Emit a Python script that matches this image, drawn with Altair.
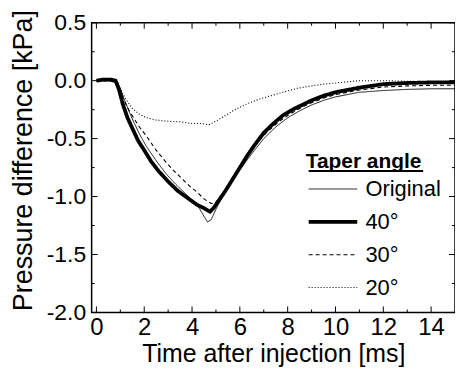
import altair as alt
import pandas as pd

series_names = ["Original", "40°", "30°", "20°"]

t_orig = [0, 0.5, 0.85, 1.0, 1.2, 1.5, 1.8, 2.1, 2.5, 2.9, 3.3, 3.7, 4.0, 4.3, 4.5, 4.65, 4.8, 5.0, 5.3, 5.6, 6.0, 6.5, 7.0, 7.5, 8.0, 8.5, 9.0, 9.5, 10, 11, 12, 13, 14, 15]
p_orig = [0, 0, 0, -0.07, -0.18, -0.33, -0.46, -0.57, -0.69, -0.80, -0.89, -0.97, -1.03, -1.10, -1.17, -1.22, -1.20, -1.11, -0.99, -0.89, -0.77, -0.63, -0.50, -0.40, -0.32, -0.26, -0.21, -0.17, -0.14, -0.10, -0.085, -0.075, -0.07, -0.07]

t_40 = [0, 0.3, 0.6, 0.8, 0.95, 1.1, 1.3, 1.5, 1.75, 2.0, 2.3, 2.6, 3.0, 3.4, 3.8, 4.2, 4.5, 4.75, 4.9, 5.1, 5.4, 5.7, 6.0, 6.3, 6.6, 7.0, 7.4, 7.8, 8.2, 8.6, 9.0, 9.5, 10.0, 10.5, 11.0, 11.5, 12.0, 13.0, 14.0, 15.0]
p_40 = [0, 0.01, 0.01, 0, -0.08, -0.2, -0.32, -0.41, -0.52, -0.6, -0.7, -0.78, -0.87, -0.95, -1.01, -1.07, -1.10, -1.13, -1.10, -1.04, -0.95, -0.85, -0.75, -0.65, -0.56, -0.45, -0.37, -0.30, -0.25, -0.21, -0.17, -0.13, -0.10, -0.08, -0.06, -0.045, -0.03, -0.02, -0.015, -0.015]

t_30 = [0, 0.5, 0.9, 1.1, 1.4, 1.8, 2.1, 2.5, 2.9, 3.2, 3.6, 3.9, 4.2, 4.5, 4.8, 4.95, 5.1, 5.4, 5.7, 6.0, 6.4, 6.8, 7.2, 7.6, 8.0, 8.5, 9.0, 9.5, 10, 11, 12, 13, 14, 15]
p_30 = [0, 0, -0.02, -0.15, -0.27, -0.40, -0.48, -0.60, -0.70, -0.77, -0.85, -0.91, -0.96, -1.02, -1.06, -1.06, -1.02, -0.94, -0.84, -0.74, -0.62, -0.52, -0.43, -0.36, -0.30, -0.24, -0.19, -0.15, -0.12, -0.08, -0.055, -0.045, -0.04, -0.04]

t_20 = [0, 0.5, 0.85, 1.0, 1.2, 1.5, 1.8, 2.1, 2.5, 3.0, 3.5, 4.0, 4.4, 4.7, 5.0, 5.4, 5.8, 6.3, 6.8, 7.3, 7.8, 8.4, 9.0, 9.5, 10, 10.5, 11, 11.5, 12, 13, 14, 15]
p_20 = [0, 0, -0.01, -0.07, -0.15, -0.24, -0.29, -0.32, -0.34, -0.35, -0.355, -0.37, -0.37, -0.38, -0.35, -0.30, -0.25, -0.20, -0.16, -0.13, -0.10, -0.066, -0.045, -0.03, -0.02, -0.01, 0.0, 0.0, 0.0, -0.005, -0.01, -0.01]

x_major = [0, 2, 4, 6, 8, 10, 12, 14]
x_minor = [1, 3, 5, 7, 9, 11, 13]
y_major = [-2.0, -1.5, -1.0, -0.5, 0.0, 0.5]
y_minor = [-1.75, -1.25, -0.75, -0.25, 0.25]

rows = []
for name, ts, ps in [("40°", t_40, p_40), ("Original", t_orig, p_orig), ("30°", t_30, p_30), ("20°", t_20, p_20)]:
    for t, p in zip(ts, ps):
        rows.append({"series": name, "t": t, "p": p})
df = pd.DataFrame(rows)

W, H = 365, 291
FONT = "Liberation Sans"

x_scale = alt.Scale(domain=[-0.2, 15], nice=False, zero=False)
y_scale = alt.Scale(domain=[-2.0, 0.5], nice=False, zero=False)

x_axis = alt.Axis(values=x_major, format="d", title="Time after injection [ms]",
                  ticks=False, tickSize=0, domain=False, grid=False,
                  labelFontSize=24, labelPadding=3, labelColor="black",
                  titleFontSize=25, titleFontWeight="normal", titleColor="black",
                  titleBaseline="alphabetic", titleY=49)
y_axis = alt.Axis(values=y_major, format=".1f", title="Pressure difference [kPa]",
                  labelExpr="replace(datum.label, '\u2212', '-')",
                  ticks=False, tickSize=0, domain=False, grid=False,
                  labelFontSize=23, labelPadding=6, labelColor="black",
                  titleFontSize=27, titleFontWeight="normal", titleColor="black",
                  titleBaseline="alphabetic", titleAngle=270, titleX=-60, titleY=138,
                  titleAlign="center")

leg = alt.Legend(title="Taper angle", orient="none", legendX=215, legendY=129,
                 symbolType="M-1,0H5.1", symbolSize=256, symbolStrokeColor="black",
                 labelFontSize=22, labelOffset=38, labelColor="black",
                 titleFontSize=21, titleFontWeight="bold", titleColor="black",
                 titlePadding=6, rowPadding=11, padding=0)

lines = alt.Chart(df).mark_line(clip=True, color="black").encode(
    x=alt.X("t:Q", scale=x_scale, axis=x_axis),
    y=alt.Y("p:Q", scale=y_scale, axis=y_axis),
    strokeDash=alt.StrokeDash("series:N", scale=alt.Scale(domain=series_names, range=[[1, 0], [1, 0], [4, 3], [1, 2]]), legend=leg),
    strokeWidth=alt.StrokeWidth("series:N", scale=alt.Scale(type="ordinal", domain=series_names, range=[0.9, 3.8, 1.1, 1.1]), legend=leg),
)

def xticks(vals, L):
    d = pd.DataFrame({"t": vals})
    b = alt.Chart(d).mark_rule(color="black", strokeWidth=1).encode(
        x=alt.X("t:Q", scale=x_scale, axis=x_axis), y=alt.value(H), y2=alt.value(H - L))
    t = alt.Chart(d).mark_rule(color="black", strokeWidth=1).encode(
        x=alt.X("t:Q", scale=x_scale, axis=x_axis), y=alt.value(0), y2=alt.value(L))
    return [b, t]

def yticks(vals, L):
    d = pd.DataFrame({"p": vals})
    l = alt.Chart(d).mark_rule(color="black", strokeWidth=1).encode(
        y=alt.Y("p:Q", scale=y_scale, axis=y_axis), x=alt.value(0), x2=alt.value(L))
    r = alt.Chart(d).mark_rule(color="black", strokeWidth=1).encode(
        y=alt.Y("p:Q", scale=y_scale, axis=y_axis), x=alt.value(W), x2=alt.value(W - L))
    return [l, r]

underline = alt.Chart(pd.DataFrame({"u": [0]})).mark_rule(color="black", strokeWidth=2).encode(
    x=alt.value(218), x2=alt.value(333), y=alt.value(149))

layers = [lines] + xticks(x_major, 6) + xticks(x_minor, 3) + yticks(y_major, 6) + yticks(y_minor, 3) + [underline]

chart = alt.layer(*layers).properties(
    width=W, height=H,
    autosize=alt.AutoSizeParams(type="none"),
    padding={"left": 84, "top": 14, "right": 0, "bottom": 55},
).configure(font=FONT).configure_view(stroke="black", strokeWidth=1.5)

chart.save("out.html", embed_options={"renderer": "svg", "actions": False})
